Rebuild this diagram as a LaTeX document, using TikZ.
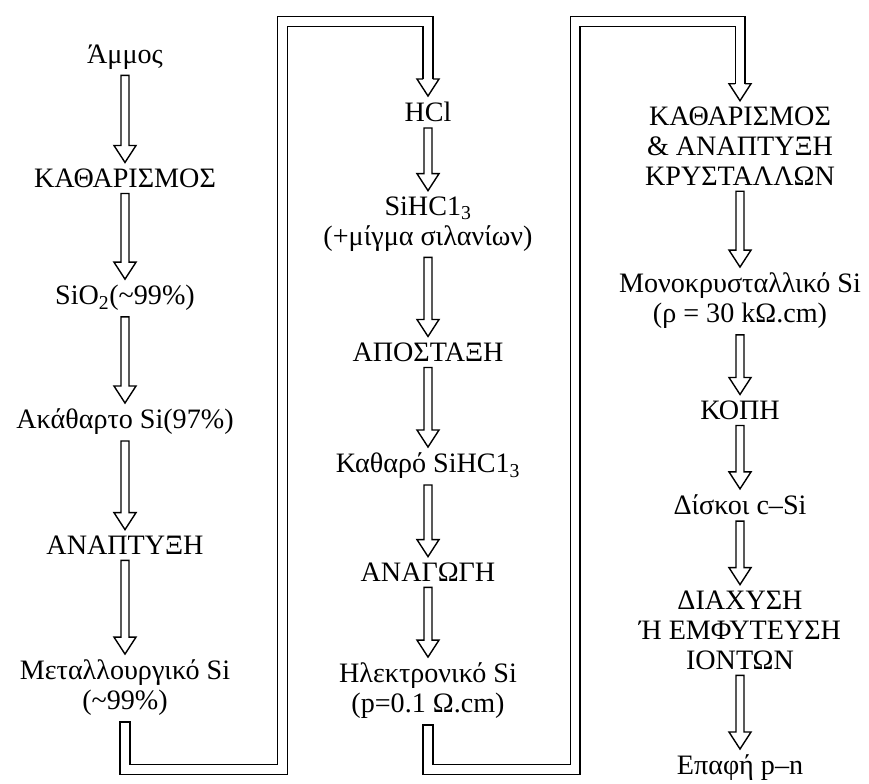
\documentclass[tikz,border=0pt]{standalone}
\usepackage{fontspec}
\setmainfont{Liberation Serif}
\usetikzlibrary{calc}

\tikzset{
  stage/.style={font=\fontsize{24}{25.5}\selectfont, align=center,
      inner xsep=2pt, inner ysep=5pt},
  flow/.style={draw, line width=1.2pt, to path={
      let \p1=(\tikztostart), \p2=(\tikztotarget) in
      (\x1-3.4pt,\y1) -- (\x1-3.4pt,\y2+14.5pt) -- (\x1-9.4pt,\y2+14.5pt) -- (\x1,\y2)
      -- (\x1+9.4pt,\y2+14.5pt) -- (\x1+3.4pt,\y2+14.5pt) -- (\x1+3.4pt,\y1) -- cycle}},
  band/.style={line width=1.2pt, double, double distance=7pt},
  head/.pic={\draw[line width=1.2pt] (-4.1pt,14.5pt) -- (-9.4pt,14.5pt) -- (0,0)
      -- (9.4pt,14.5pt) -- (4.1pt,14.5pt);}
}

\begin{document}
\begin{tikzpicture}[x=0.03cm, y=-0.03cm]
  \useasboundingbox (0,0) rectangle (869,783);

  % first column
  \node[stage] (a1) at (125,57) {Άμμος};
  \node[stage] (a2) at (125,178) {ΚΑΘΑΡΙΣΜΟΣ};
  \node[stage] (a3) at (125,298) {SiO\textsubscript{2}(\textasciitilde99\%)};
  \node[stage] (a4) at (125,422) {Ακάθαρτο Si(97\%)};
  \node[stage] (a5) at (125,545) {ΑΝΑΠΤΥΞΗ};
  \node[stage] (a6) at (125,688) {Μεταλλουργικό Si\\(\textasciitilde99\%)};

  % second column
  \node[stage] (b1) at (428,112) {HCl};
  \node[stage] (b2) at (428,224) {SiHC1\textsubscript{3}\\(+μίγμα σιλανίων)};
  \node[stage] (b3) at (428,352) {ΑΠΟΣΤΑΞΗ};
  \node[stage] (b4) at (428,466) {Καθαρό SiHC1\textsubscript{3}};
  \node[stage] (b5) at (428,572) {ΑΝΑΓΩΓΗ};
  \node[stage] (b6) at (428,691) {Ηλεκτρονικό Si\\(p=0.1 Ω.cm)};

  % third column
  \node[stage] (c1) at (740,146) {ΚΑΘΑΡΙΣΜΟΣ\\\& ΑΝΑΠΤΥΞΗ\\ΚΡΥΣΤΑΛΛΩΝ};
  \node[stage] (c2) at (740,301) {Μονοκρυσταλλικό Si\\(ρ = 30 kΩ.cm)};
  \node[stage] (c3) at (740,410) {ΚΟΠΗ};
  \node[stage] (c4) at (740,505) {Δίσκοι c–Si};
  \node[stage] (c5) at (740,630) {ΔΙΑΧΥΣΗ\\Ή ΕΜΦΥΤΕΥΣΗ\\ΙΟΝΤΩΝ};
  \node[stage] (c6) at (740,768) {Επαφή p–n};

  % arrows inside the columns
  \foreach \u/\v in {a1/a2,a2/a3,a3/a4,a4/a5,a5/a6,
                     b1/b2,b2/b3,b3/b4,b4/b5,b5/b6,
                     c1/c2,c2/c3,c3/c4,c4/c5,c5/c6}
    \draw[flow] (\u.south) to (\v.north);

  % bands between the columns
  \coordinate (lb) at (282.5,769.5);
  \coordinate (lt) at (282.5,21.5);
  \coordinate (rb) at (575,769.5);
  \coordinate (rt) at (575,21.5);
  \draw[band] (a6.south) |- (lb) -- (lt) -| ([yshift=14.5pt]b1.north);
  \draw[band] (b6.south) |- (rb) -- (rt) -| ([yshift=14.5pt]c1.north);
  \draw[line width=1.2pt] ([xshift=-4.7pt]a6.south) -- ([xshift=4.7pt]a6.south);
  \draw[line width=1.2pt] ([xshift=-4.7pt]b6.south) -- ([xshift=4.7pt]b6.south);
  \pic at (b1.north) {head};
  \pic at (c1.north) {head};
\end{tikzpicture}
\end{document}
